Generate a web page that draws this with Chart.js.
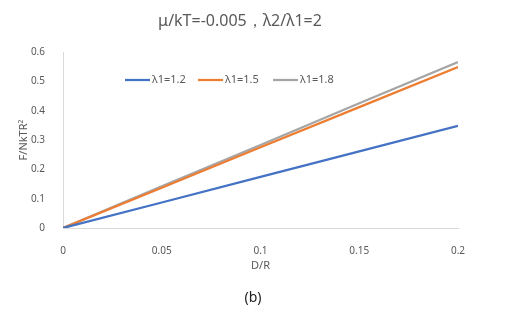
<!DOCTYPE html>
<html>
<head>
<meta charset="utf-8">
<script src="https://cdn.jsdelivr.net/npm/chart.js@4"></script>
<style>
  html, body { margin: 0; padding: 0; background: #fff; }
  #wrap { width: 517px; height: 322px; position: relative; }
</style>
</head>
<body>
<div id="wrap"><canvas id="c" width="517" height="322"></canvas></div>
<script>
// D/R sample positions
const dr = [0, 0.05, 0.1, 0.15, 0.2];
// F/NkTR^2 for each λ1
const lam12 = [0, 0.087, 0.174, 0.261, 0.348];
const lam15 = [0, 0.137, 0.275, 0.412, 0.549];
const lam18 = [0, 0.142, 0.283, 0.425, 0.566];
const seriesNames = ['λ1=1.2', 'λ1=1.5', 'λ1=1.8'];
const seriesColors = ['#4472C4', '#ED7D31', '#A5A5A5'];
const xTicks = [0, 0.05, 0.1, 0.15, 0.2];
const yTicks = [0, 0.1, 0.2, 0.3, 0.4, 0.5, 0.6];

const FONT = '"Noto Sans", "Open Sans", sans-serif';
const TEXT = '#595959';

const pts = ys => dr.map((x, i) => ({ x, y: ys[i] }));
const plainNum = v => String(Math.round(v * 1000) / 1000);

// Title, axis titles, caption and in-plot legend
const decorations = {
  id: 'decorations',
  afterDraw(chart) {
    const { ctx, chartArea: a } = chart;
    ctx.save();
    ctx.fillStyle = TEXT;
    ctx.textBaseline = 'middle';

    ctx.font = '16px ' + FONT;
    ctx.textAlign = 'center';
    ctx.fillText('μ/kT=-0.005，λ2/λ1=2', 240, 21);

    ctx.font = '11px ' + FONT;
    ctx.fillText('D/R', (a.left + a.right) / 2, 266);

    ctx.save();
    ctx.translate(24, (a.top + a.bottom) / 2);
    ctx.rotate(-Math.PI / 2);
    ctx.fillText('F/NkTR²', 0, 0);
    ctx.restore();

    ctx.font = '14px ' + FONT;
    ctx.fillStyle = '#222';
    ctx.fillText('(b)', 253, 298);

    // legend
    const starts = [125, 198, 273];
    ctx.font = '11px ' + FONT;
    ctx.textAlign = 'left';
    ctx.fillStyle = TEXT;
    seriesNames.forEach((name, i) => {
      const x0 = starts[i];
      ctx.strokeStyle = seriesColors[i];
      ctx.lineWidth = 2.25;
      ctx.beginPath();
      ctx.moveTo(x0, 80);
      ctx.lineTo(x0 + 25, 80);
      ctx.stroke();
      ctx.fillText(name, x0 + 27, 80);
    });
    ctx.restore();
  }
};

new Chart(document.getElementById('c'), {
  type: 'line',
  data: {
    datasets: [lam12, lam15, lam18].map((ys, i) => ({
      label: seriesNames[i],
      data: pts(ys),
      borderColor: seriesColors[i],
      backgroundColor: seriesColors[i],
      borderWidth: 2.25,
      pointRadius: 0,
      tension: 0,
      fill: false
    }))
  },
  options: {
    responsive: false,
    animation: false,
    layout: { padding: { left: 0, right: 59, top: 52, bottom: 0 } },
    plugins: { legend: { display: false }, title: { display: false }, tooltip: { enabled: false } },
    scales: {
      x: {
        type: 'linear',
        min: 0, max: 0.2,
        afterBuildTicks: s => { s.ticks = xTicks.map(v => ({ value: v })); },
        afterFit: s => { s.height = 322 - 228; },
        grid: { display: false },
        border: { display: true, color: '#D9D9D9', width: 1 },
        ticks: { color: TEXT, font: { size: 10, family: FONT }, padding: 9, maxRotation: 0, autoSkip: false, callback: v => plainNum(v) }
      },
      y: {
        type: 'linear',
        min: 0, max: 0.6,
        afterBuildTicks: s => { s.ticks = yTicks.map(v => ({ value: v })); },
        afterFit: s => { s.width = 63; },
        grid: { display: false },
        border: { display: true, color: '#D9D9D9', width: 1 },
        ticks: { color: TEXT, font: { size: 10, family: FONT }, padding: 10, callback: v => plainNum(v) }
      }
    }
  },
  plugins: [decorations]
});
</script>
</body>
</html>
